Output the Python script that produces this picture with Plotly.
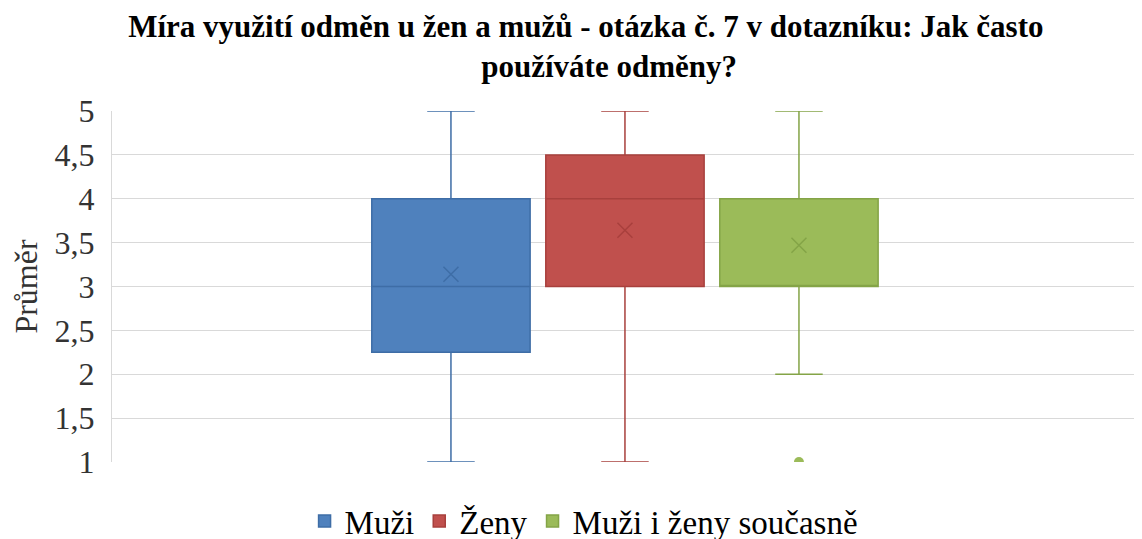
import plotly.graph_objects as go

series = ["Muži", "Ženy", "Muži i ženy současně"]
q1 = [2.25, 3.0, 3.0]
median = [3.0, 4.0, 3.0]
q3 = [4.0, 4.5, 4.0]
lower = [1.0, 1.0, 2.0]
upper = [5.0, 5.0, 5.0]
means = [3.14, 3.64, 3.47]
outliers = [[], [], [1.0]]
positions = [-1, 0, 1]

fills = ["#4F81BD", "#C0504D", "#9BBB59"]
edges = ["#3E6DA6", "#A8403D", "#84A447"]

ytickvals = [1, 1.5, 2, 2.5, 3, 3.5, 4, 4.5, 5]
yticktext = ["1", "1,5", "2", "2,5", "3", "3,5", "4", "4,5", "5"]

font = "serif"

fig = go.Figure()
for i, name in enumerate(series):
    fig.add_trace(go.Box(
        name=name, x=[positions[i]], q1=[q1[i]], median=[median[i]], q3=[q3[i]],
        lowerfence=[lower[i]], upperfence=[upper[i]],
        fillcolor=fills[i], line=dict(color=edges[i], width=1.5),
        width=0.91, whiskerwidth=0.3, boxpoints=False, showlegend=True,
    ))
for i, name in enumerate(series):
    fig.add_trace(go.Scatter(
        x=[positions[i]], y=[means[i]], mode="markers", showlegend=False,
        marker=dict(symbol="x-thin", size=15, line=dict(color=edges[i], width=1.5)),
        hoverinfo="skip",
    ))
    if outliers[i]:
        fig.add_trace(go.Scatter(
            x=[positions[i]] * len(outliers[i]), y=outliers[i], mode="markers",
            showlegend=False, cliponaxis=True,
            marker=dict(symbol="circle", size=10, color=fills[i]),
        ))

fig.update_layout(
    width=1142, height=539,
    paper_bgcolor="white", plot_bgcolor="white",
    margin=dict(l=104, r=10, t=103, b=85, autoexpand=False),
    boxmode="overlay",
    font=dict(family=font, size=32, color="#333333"),
    title=dict(
        text="<b>Míra využití odměn u žen a mužů - otázka č. 7 v dotazníku: Jak často<br>"
             "&nbsp;&nbsp;&nbsp;&nbsp;&nbsp;&nbsp;používáte odměny?</b>",
        x=0.506, xref="container", xanchor="center", y=1 - 29 / 539, yref="container", yanchor="top",
        font=dict(family=font, size=31, color="#000000"),
    ),
    xaxis=dict(range=[-2.948, 2.96], showticklabels=False, showgrid=False, zeroline=False,
               showline=False, fixedrange=True, automargin=False),
    yaxis=dict(range=[1, 5], tickvals=ytickvals, ticktext=yticktext, showgrid=True,
               gridcolor="#D9D9D9", gridwidth=1.3, zeroline=False, showline=True,
               linecolor="#D9D9D9", linewidth=1.3, ticks="", ticklen=0, automargin=False,
               ticklabelstandoff=10,
               tickfont=dict(family=font, size=32, color="#333333"),
               title=dict(text="Průměr", font=dict(family=font, size=32, color="#333333"), standoff=18)),
    legend=dict(orientation="h", x=0.504, xanchor="center", xref="container",
                y=26 / 539, yanchor="middle", yref="container",
                font=dict(family=font, size=33, color="#000000"), itemwidth=30),
)

fig.write_html("out.html")
